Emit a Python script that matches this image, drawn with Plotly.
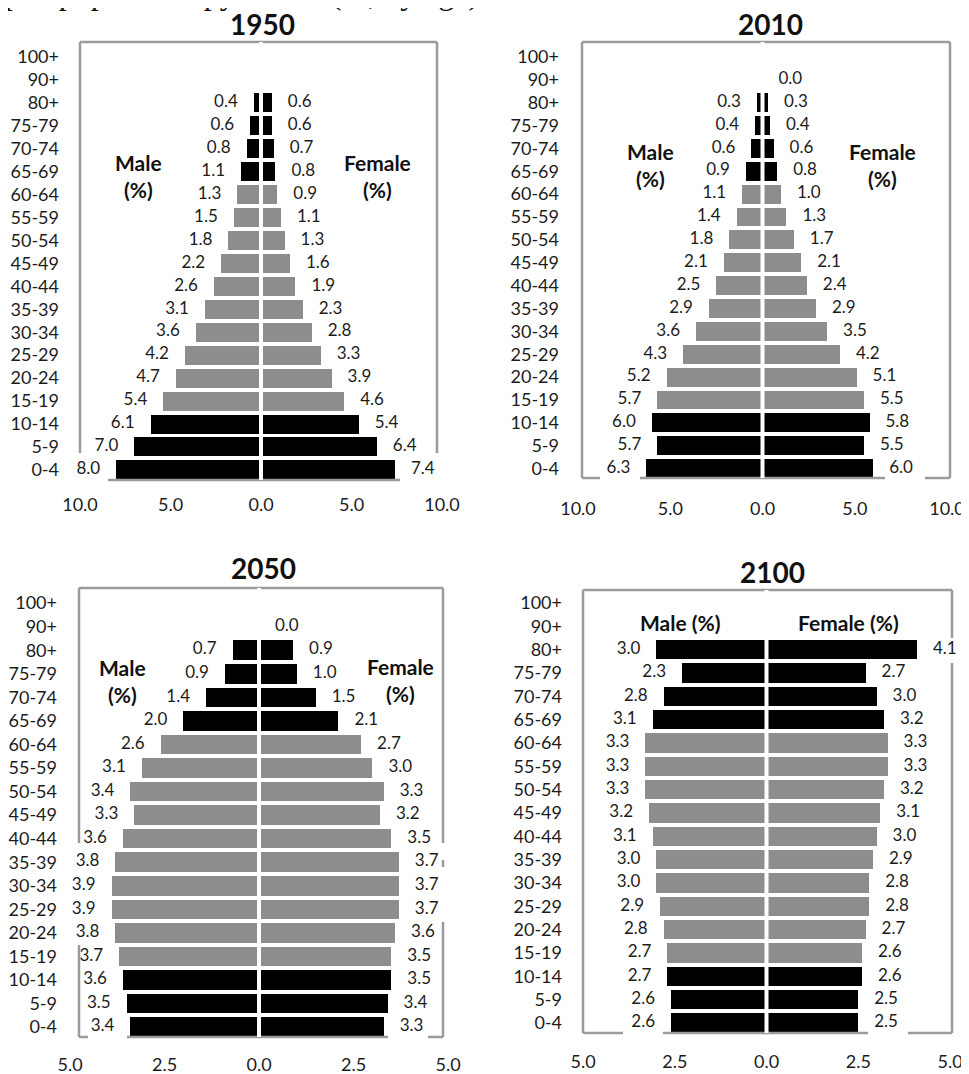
import plotly.graph_objects as go

# page has an 8px body margin; coordinates are shifted to compensate
OFF = 8
W, H = 969, 1074

ages = ["0-4", "5-9", "10-14", "15-19", "20-24", "25-29", "30-34", "35-39", "40-44",
        "45-49", "50-54", "55-59", "60-64", "65-69", "70-74", "75-79", "80+", "90+", "100+"]

male_1950 = [8.0, 7.0, 6.1, 5.4, 4.7, 4.2, 3.6, 3.1, 2.6, 2.2, 1.8, 1.5, 1.3, 1.1, 0.8, 0.6, 0.4, None, None]
female_1950 = [7.4, 6.4, 5.4, 4.6, 3.9, 3.3, 2.8, 2.3, 1.9, 1.6, 1.3, 1.1, 0.9, 0.8, 0.7, 0.6, 0.6, None, None]
male_2010 = [6.3, 5.7, 6.0, 5.7, 5.2, 4.3, 3.6, 2.9, 2.5, 2.1, 1.8, 1.4, 1.1, 0.9, 0.6, 0.4, 0.3, None, None]
female_2010 = [6.0, 5.5, 5.8, 5.5, 5.1, 4.2, 3.5, 2.9, 2.4, 2.1, 1.7, 1.3, 1.0, 0.8, 0.6, 0.4, 0.3, 0.0, None]
male_2050 = [3.4, 3.5, 3.6, 3.7, 3.8, 3.9, 3.9, 3.8, 3.6, 3.3, 3.4, 3.1, 2.6, 2.0, 1.4, 0.9, 0.7, None, None]
female_2050 = [3.3, 3.4, 3.5, 3.5, 3.6, 3.7, 3.7, 3.7, 3.5, 3.2, 3.3, 3.0, 2.7, 2.1, 1.5, 1.0, 0.9, 0.0, None]
male_2100 = [2.6, 2.6, 2.7, 2.7, 2.8, 2.9, 3.0, 3.0, 3.1, 3.2, 3.3, 3.3, 3.3, 3.1, 2.8, 2.3, 3.0, None, None]
female_2100 = [2.5, 2.5, 2.6, 2.6, 2.7, 2.8, 2.8, 2.9, 3.0, 3.1, 3.2, 3.3, 3.3, 3.2, 3.0, 2.7, 4.1, None, None]

tick_vals_10 = [-10, -5, 0, 5, 10]
tick_text_10 = ["10.0", "5.0", "0.0", "5.0", "10.0"]
tick_vals_5 = [-5, -2.5, 0, 2.5, 5]
tick_text_5 = ["5.0", "2.5", "0.0", "2.5", "5.0"]

BLACK = "#000000"
GRAY = "#8d8d8d"
FRAME = "#9b9b9b"
TXT = "#1c1c1c"
FONT = "Lato"

colors = [BLACK if (i <= 2 or 13 <= i <= 16) else GRAY for i in range(len(ages))]

panels = [
    dict(year="1950", male=male_1950, female=female_1950, xmax=10, tv=tick_vals_10, tt=tick_text_10,
         x0=80, x1=442, y0=42, y1=480, yr=(-0.44, 18.65), xstand=12, ystand=20,
         title=(262, 24), mlab=("Male<br>(%)", 138, 176), flab=("Female<br>(%)", 377, 176),
         frame=[(80, 42, 437, 42), (80, 42, 80, 453), (437, 42, 437, 453), (108, 480, 400, 480)]),
    dict(year="2010", male=male_2010, female=female_2010, xmax=10, tv=tick_vals_10, tt=tick_text_10,
         x0=578, x1=947, y0=42, y1=478, yr=(-0.41, 18.65), xstand=18, ystand=18,
         title=(770, 24), mlab=("Male<br>(%)", 650, 165), flab=("Female<br>(%)", 882, 165),
         frame=[(582, 42, 950, 42), (582, 42, 582, 478), (582, 478, 600, 478), (640, 478, 885, 478),
                (925, 478, 950, 478), (950, 42, 950, 478)]),
    dict(year="2050", male=male_2050, female=female_2050, xmax=5, tv=tick_vals_5, tt=tick_text_5,
         x0=70, x1=448, y0=588, y1=1037, yr=(-0.42, 18.64), xstand=15, ystand=12,
         title=(263, 568), mlab=("Male<br>(%)", 122, 681), flab=("Female<br>(%)", 400, 680),
         frame=[(79, 588, 443, 588), (79, 588, 79, 843), (79, 945, 79, 1037), (79, 1037, 88, 1037),
                (127, 1037, 388, 1037), (428, 1037, 443, 1037), (443, 588, 443, 843),
                (443, 860, 443, 867), (443, 922, 443, 1037)]),
    dict(year="2100", male=male_2100, female=female_2100, xmax=5, tv=tick_vals_5, tt=tick_text_5,
         x0=583, x1=950, y0=590, y1=1033, yr=(-0.43, 18.56), xstand=16, ystand=20,
         title=(772, 572), mlab=("Male (%)", 680, 622), flab=("Female (%)", 848, 622),
         frame=[(583, 590, 952, 590), (583, 590, 583, 1033), (583, 1033, 623, 1033),
                (663, 1033, 868, 1033), (908, 1033, 952, 1033), (952, 590, 952, 638),
                (952, 663, 952, 1033)]),
]


def px(x):
    return (x - OFF) / W


def py(y):
    return 1 - (y - OFF) / H


fig = go.Figure()
layout = dict(width=W, height=H, margin=dict(l=0, r=0, t=0, b=0, autoexpand=False),
              paper_bgcolor="white", plot_bgcolor="white", showlegend=False,
              barmode="overlay", bargap=0, font=dict(family=FONT, color=TXT))
shapes = []
annotations = []

ypos = list(range(len(ages)))

for k, p in enumerate(panels):
    n = "" if k == 0 else str(k + 1)
    xa, ya = "x" + n, "y" + n
    ppu = (p["x1"] - p["x0"]) / (2 * p["xmax"])
    pad = 16 / ppu

    mx = [-v if v is not None else None for v in p["male"]]
    fx = [v if v is not None else None for v in p["female"]]
    fig.add_trace(go.Bar(x=mx, y=ypos, orientation="h", width=0.83, base=0,
                         marker=dict(color=colors, line=dict(width=0)),
                         xaxis=xa, yaxis=ya, hoverinfo="skip"))
    fig.add_trace(go.Bar(x=fx, y=ypos, orientation="h", width=0.83, base=0,
                         marker=dict(color=colors, line=dict(width=0)),
                         xaxis=xa, yaxis=ya, hoverinfo="skip"))

    # value labels
    mlx, mly, mlt = [], [], []
    for i, v in enumerate(p["male"]):
        if v is not None:
            mlx.append(-v - pad); mly.append(i); mlt.append(f"{v:.1f}")
    flx, fly, flt = [], [], []
    for i, v in enumerate(p["female"]):
        if v is not None:
            flx.append(v + pad); fly.append(i); flt.append(f"{v:.1f}")
    fig.add_trace(go.Scatter(x=mlx, y=mly, mode="text", text=mlt, textposition="middle left",
                             textfont=dict(family=FONT, size=17, color=TXT),
                             xaxis=xa, yaxis=ya, hoverinfo="skip", cliponaxis=False))
    fig.add_trace(go.Scatter(x=flx, y=fly, mode="text", text=flt, textposition="middle right",
                             textfont=dict(family=FONT, size=17, color=TXT),
                             xaxis=xa, yaxis=ya, hoverinfo="skip", cliponaxis=False))

    layout["xaxis" + n] = dict(domain=[px(p["x0"]), px(p["x1"])], range=[-p["xmax"], p["xmax"]],
                               anchor=ya, tickvals=p["tv"], ticktext=p["tt"], automargin=False,
                               showgrid=False, zeroline=False, showline=False, ticks="",
                               ticklabelstandoff=p["xstand"],
                               tickfont=dict(family=FONT, size=18, color=TXT), fixedrange=True)
    layout["yaxis" + n] = dict(domain=[py(p["y1"]), py(p["y0"])], range=list(p["yr"]),
                               anchor=xa, tickvals=ypos, ticktext=ages, automargin=False,
                               showgrid=False, zeroline=False, showline=False, ticks="",
                               ticklabelstandoff=p["ystand"],
                               tickfont=dict(family=FONT, size=18, color=TXT), fixedrange=True)

    for (a, b, c, d) in p["frame"]:
        shapes.append(dict(type="line", xref="paper", yref="paper",
                           x0=px(a), y0=py(b), x1=px(c), y1=py(d),
                           line=dict(color=FRAME, width=2.5), layer="above"))
    # white centre gap
    shapes.append(dict(type="line", xref=xa, yref=ya + " domain", x0=0, x1=0, y0=0, y1=1,
                       line=dict(color="white", width=4), layer="above"))

    tx, ty = p["title"]
    annotations.append(dict(text=f"<b>{p['year']}</b>", x=px(tx), y=py(ty), xref="paper", yref="paper",
                            xanchor="center", yanchor="middle", showarrow=False,
                            font=dict(family=FONT, size=28, color="#111111")))
    for (t, lx, ly) in (p["mlab"], p["flab"]):
        annotations.append(dict(text=f"<b>{t}</b>", x=px(lx), y=py(ly), xref="paper", yref="paper",
                                xanchor="center", yanchor="middle", showarrow=False,
                                font=dict(family=FONT, size=21, color="#111111")))

# partially visible heading line cut off at the top of the image
annotations.append(dict(text="Japan population pyramids (%, by age)", x=px(481), y=py(13),
                        xref="paper", yref="paper", xanchor="right", yanchor="bottom",
                        showarrow=False, font=dict(family="Liberation Serif", size=32, color="#111111")))

layout["shapes"] = shapes
layout["annotations"] = annotations
fig.update_layout(**layout)
fig.write_html("out.html")
